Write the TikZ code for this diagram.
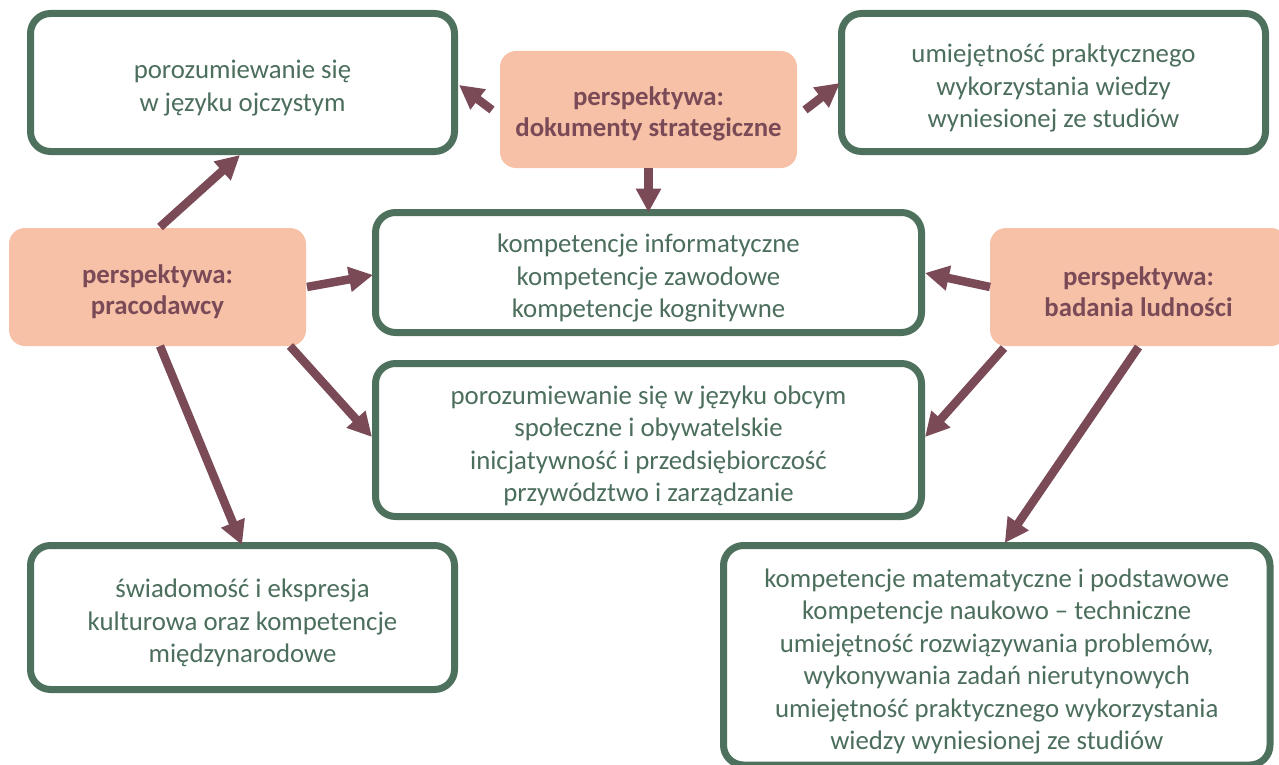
\documentclass[tikz,border=0pt]{standalone}
\usepackage{fontspec}
\setmainfont{Carlito}
\definecolor{FrameGreen}{HTML}{4E715E}
\definecolor{TextGreen}{HTML}{4C6E5C}
\definecolor{Salmon}{HTML}{F6C1A7}
\definecolor{Plum}{HTML}{7B4A57}
\usetikzlibrary{arrows.meta, calc}
\newcommand{\toplift}[1]{\rule{0pt}{#1}}

\begin{document}
\begin{tikzpicture}[
  x=1pt, y=-1pt,
  comp/.style={rectangle, rounded corners=20pt, draw=FrameGreen, line width=7pt, fill=white, text=TextGreen, align=center, outer sep=0pt, inner sep=0pt, font=\fontsize{26.8}{32.5}\selectfont},
  persp/.style={rectangle, rounded corners=16pt, fill=Salmon, text=Plum, align=center, outer sep=0pt, inner sep=0pt, font=\fontsize{26.8}{31}\selectfont\bfseries},
  arrow/.style={-{Triangle[length=24pt,width=24pt]}, line width=8.5pt, Plum}
]
  \useasboundingbox (0,0) rectangle (1279,765);

  % Perspectives
  \node[persp, minimum width=297pt, minimum height=117pt] (dok) at (648.5,109.5) {\toplift{28pt}perspektywa:\\dokumenty strategiczne};
  \node[persp, minimum width=297pt, minimum height=118pt] (prac) at (157.5,287) {\toplift{28pt}perspektywa:\\pracodawcy};
  \node[persp, minimum width=297pt, minimum height=118pt] (bad) at (1138.5,287) {\toplift{28pt}perspektywa:\\badania ludności};

  % Competences
  \node[comp, minimum width=424pt, minimum height=138pt] (ojcz) at (242.5,82.5) {\toplift{30pt}porozumiewanie się\\w języku ojczystym};
  \node[comp, minimum width=424pt, minimum height=138pt] (prakt) at (1053.5,82.5) {\toplift{30pt}umiejętność praktycznego\\wykorzystania wiedzy\\wyniesionej ze studiów};
  \node[comp, minimum width=546pt, minimum height=120pt] (info) at (648.5,272.5) {\toplift{30pt}kompetencje informatyczne\\kompetencje zawodowe\\kompetencje kognitywne};
  \node[comp, minimum width=546pt, minimum height=153pt] (obcy) at (648.5,440) {\toplift{30pt}porozumiewanie się w języku obcym\\społeczne i obywatelskie\\inicjatywność i przedsiębiorczość\\przywództwo i zarządzanie};
  \node[comp, minimum width=424pt, minimum height=144pt] (kult) at (242.5,617.5) {\toplift{30pt}świadomość i ekspresja\\kulturowa oraz kompetencje\\międzynarodowe};
  \node[comp, minimum width=546.5pt, minimum height=219.5pt] (mat) at (996.75,655.25) {\toplift{31pt}kompetencje matematyczne i podstawowe\\kompetencje naukowo – techniczne\\umiejętność rozwiązywania problemów,\\wykonywania zadań nierutynowych\\umiejętność praktycznego wykorzystania\\wiedzy wyniesionej ze studiów};

  % Arrows
  \draw[arrow] ($(dok.west)+(-8,0.5)$) -- ($(ojcz.east)+(4.5,2.5)$);
  \draw[arrow] ($(dok.east)+(8,0.5)$) -- ($(prakt.west)+(-1.5,0.5)$);
  \draw[arrow] (dok.south) -- (dok.south |- info.north);
  \draw[arrow] ($(prac.north)+(2.5,-1)$) -- ($(ojcz.south)+(-2.5,3.5)$);
  \draw[arrow] ($(prac.east)+(1,0)$) -- ($(info.west)+(-2.5,2.5)$);
  \draw[arrow] ($(prac.south east)+(-16,0)$) -- ($(obcy.west)+(-3.5,-3)$);
  \draw[arrow] ($(prac.south)+(2.5,0)$) -- ($(kult.north)+(-0.5,-0.5)$);
  \draw[arrow] (bad.west) -- ($(info.east)+(3.5,0.5)$);
  \draw[arrow] ($(bad.south west)+(14,2)$) -- ($(obcy.east)+(3.5,-3)$);
  \draw[arrow] ($(bad.south)+(0,1)$) -- ($(mat.north)+(8,-2.5)$);
\end{tikzpicture}
\end{document}
